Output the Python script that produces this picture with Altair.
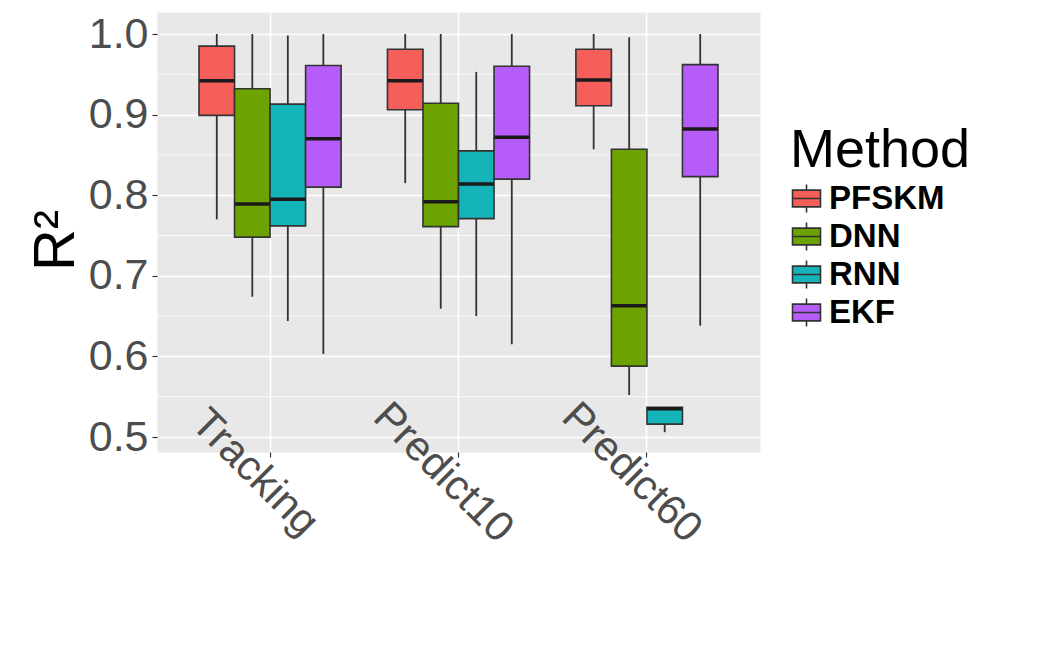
import altair as alt
import pandas as pd

categories = ["Tracking", "Predict10", "Predict60"]
methods = ["PFSKM", "DNN", "RNN", "EKF"]
colors = ["#F55F5A", "#6CA300", "#14B4B8", "#B65CF8"]

# per category, methods in order PFSKM, DNN, RNN, EKF
whisker_low = [0.770, 0.674, 0.644, 0.603,
               0.815, 0.659, 0.650, 0.615,
               0.857, 0.552, 0.506, 0.638]
q1 = [0.899, 0.748, 0.762, 0.810,
      0.906, 0.761, 0.771, 0.820,
      0.911, 0.588, 0.516, 0.823]
median = [0.942, 0.789, 0.795, 0.870,
          0.942, 0.792, 0.814, 0.872,
          0.943, 0.663, 0.535, 0.882]
q3 = [0.985, 0.932, 0.913, 0.961,
      0.981, 0.914, 0.855, 0.960,
      0.981, 0.857, 0.537, 0.962]
whisker_high = [1.000, 1.000, 0.998, 1.000,
                1.000, 1.000, 0.953, 1.000,
                1.000, 0.996, 0.537, 1.000]

major_ticks = [0.5, 0.6, 0.7, 0.8, 0.9, 1.0]
minor_breaks = [0.55, 0.65, 0.75, 0.85, 0.95]

rows = []
i = 0
for c in categories:
    for m in methods:
        rows.append(dict(cat=c, method=m, lo=whisker_low[i], q1=q1[i],
                         med=median[i], q3=q3[i], hi=whisker_high[i]))
        i += 1
df = pd.DataFrame(rows)
minor_df = pd.DataFrame({"v": minor_breaks})

FONT = "Liberation Sans"
yscale = alt.Scale(domain=[0.4814, 1.0273], nice=False, zero=False)
yaxis = alt.Axis(values=major_ticks, format=".1f", title="R²", titleFontSize=58,
                 titleFontWeight="normal", titleColor="black", titleX=-84, titleY=228,
                 titleAlign="center", titleBaseline="alphabetic", titleAngle=-90,
                 labelFontSize=43, labelColor="#4D4D4D", labelPadding=4,
                 labelLimit=300, labelOverlap=False,
                 tickSize=5, tickColor="#333333", tickWidth=1.2,
                 grid=True, gridColor="white", gridWidth=1.6, domain=False)

xenc = alt.X("cat:N", sort=categories,
             scale=alt.Scale(domain=categories, paddingInner=0.246, paddingOuter=0.223),
             axis=alt.Axis(title=None, labelAngle=45, labelAlign="center",
                           labelBaseline="middle", labelOffset=-15, labelPadding=15,
                           labelFontSize=42, labelColor="#4D4D4D", labelLimit=400,
                           grid=True, gridColor="white", gridWidth=1.6, bandPosition=0.5,
                           domain=False, tickColor="#333333", tickSize=5, tickWidth=1.2))
xo = alt.XOffset("method:N", sort=methods,
                 scale=alt.Scale(domain=methods, paddingInner=0, paddingOuter=0))

symbol_path = "M-1,-0.6H1V0.6H-1Z M-1,0H1 M0,-0.6V-1 M0,0.6V1"

minor = alt.Chart(minor_df).mark_rule(color="white", strokeWidth=0.8).encode(
    y=alt.Y("v:Q", scale=yscale, axis=yaxis)
)

base = alt.Chart(df)

whiskers = base.mark_rule(color="#333333", strokeWidth=1.8).encode(
    x=xenc, xOffset=xo,
    y=alt.Y("lo:Q", scale=yscale, axis=yaxis), y2="hi:Q"
)

boxes = base.mark_bar(stroke="#333333", strokeWidth=1.6).encode(
    x=xenc, xOffset=xo,
    y=alt.Y("q1:Q", scale=yscale, axis=yaxis), y2="q3:Q",
    fill=alt.Fill("method:N", sort=methods,
                  scale=alt.Scale(domain=methods, range=colors),
                  legend=alt.Legend(title="Method", orient="none", legendX=633, legendY=112,
                                    titleFontSize=54, titleFontWeight="normal",
                                    titleColor="black", titleLimit=400, labelLimit=300,
                                    labelFontSize=33,
                                    labelFontWeight="bold", labelColor="black",
                                    symbolType=symbol_path, symbolSize=784,
                                    symbolStrokeColor="#333333", symbolStrokeWidth=1.6,
                                    symbolOpacity=1,
                                    rowPadding=3, labelOffset=6, titlePadding=4))
)

medians = base.mark_tick(color="#1A1A1A", thickness=3.5, size=35, opacity=1).encode(
    x=xenc, xOffset=xo,
    y=alt.Y("med:Q", scale=yscale, axis=yaxis)
)

chart = alt.layer(minor, whiskers, boxes, medians).properties(
    width=603, height=440,
    autosize=alt.AutoSizeParams(type="none"),
    padding={"left": 149, "top": 4, "right": 290, "bottom": 150},
).configure(font=FONT).configure_view(fill="#E8E8E8", stroke="transparent")

chart.save("out.html", embed_options={"renderer": "svg", "actions": False})
